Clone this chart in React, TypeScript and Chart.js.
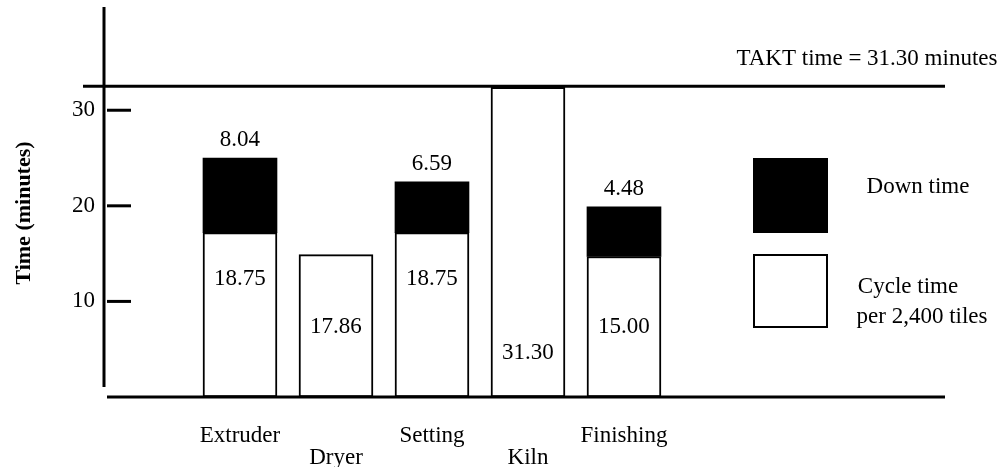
import React, { useEffect, useRef } from 'react';
import { Chart, registerables } from 'chart.js';

Chart.register(...registerables);

// ---- data (bar heights as drawn against the axis, minutes) ----
const categories = ['Extruder', 'Dryer', 'Setting', 'Kiln', 'Finishing'];
const cycleTime: (number | null)[] = [17.2, 14.9, 17.2, 32.4, 14.7];
const downTime: (number | null)[] = [7.8, null, 5.3, null, 5.2];
const cycleLabels = ['18.75', '17.86', '18.75', '31.30', '15.00'];
const downLabels = ['8.04', '', '6.59', '', '4.48'];
const yTickValues = [10, 20, 30];
const taktLevel = 32.5;
const taktText = 'TAKT time = 31.30 minutes';
const yTitle = 'Time (minutes)';
const legendDown = ['Down time'];
const legendCycle = ['Cycle time', 'per 2,400 tiles'];

// label anchors inside the white bars (axis units)
const cycleLabelAnchor = [12.4, 7.3, 12.4, 4.6, 7.3];

const FONT = '"Liberation Serif", "Times New Roman", serif';
const FS = 23;

const overlay = {
  id: 'overlay',
  afterDatasetsDraw(chart: any) {
    const { ctx, chartArea: a, scales } = chart;
    const y = scales.y;
    const x = scales.x;
    ctx.save();
    ctx.strokeStyle = '#000';
    ctx.fillStyle = '#000';
    ctx.lineCap = 'butt';

    // vertical axis
    ctx.lineWidth = 3;
    ctx.beginPath();
    ctx.moveTo(a.left + 1, a.top);
    ctx.lineTo(a.left + 1, a.bottom - 10);
    ctx.stroke();

    // tick marks (inside)
    yTickValues.forEach((v) => {
      const py = y.getPixelForValue(v);
      ctx.beginPath();
      ctx.moveTo(a.left + 4, py);
      ctx.lineTo(a.left + 28, py);
      ctx.stroke();
    });

    // baseline
    ctx.beginPath();
    ctx.moveTo(a.left + 4, a.bottom);
    ctx.lineTo(a.right, a.bottom);
    ctx.stroke();

    // TAKT line
    const ty = y.getPixelForValue(taktLevel);
    ctx.beginPath();
    ctx.moveTo(a.left - 20, ty);
    ctx.lineTo(a.right, ty);
    ctx.stroke();

    ctx.font = `${FS}px ${FONT}`;
    ctx.textAlign = 'center';
    ctx.textBaseline = 'middle';
    ctx.fillText(taktText, 867, ty - 27);

    // value labels
    const meta1 = chart.getDatasetMeta(1);
    categories.forEach((_, i) => {
      const cx = x.getPixelForValue(i);
      if (cycleLabels[i]) {
        ctx.fillText(cycleLabels[i], cx, y.getPixelForValue(cycleLabelAnchor[i]));
      }
      if (downLabels[i] && downTime[i] != null) {
        const top = meta1.data[i].y;
        ctx.fillText(downLabels[i], cx, top - 18);
      }
    });

    // legend
    ctx.fillRect(753, 158, 75, 75);
    ctx.lineWidth = 2;
    ctx.strokeRect(754, 255, 73, 72);
    ctx.fillText(legendDown[0], 918, 187);
    ctx.fillText(legendCycle[0], 908, 287);
    ctx.fillText(legendCycle[1], 922, 317);

    // y axis title
    ctx.save();
    ctx.translate(24, 213);
    ctx.rotate(-Math.PI / 2);
    ctx.font = `bold 22px ${FONT}`;
    ctx.fillText(yTitle, 0, 0);
    ctx.restore();

    ctx.restore();
  },
};

export default function App() {
  const ref = useRef<HTMLCanvasElement | null>(null);
  useEffect(() => {
    if (!ref.current) return;
    const chart = new Chart(ref.current, {
      type: 'bar',
      data: {
        datasets: [
          {
            label: 'Cycle time per 2,400 tiles',
            data: cycleTime.map((v, i) => ({ x: i, y: v })) as any,
            backgroundColor: '#fff',
            borderColor: '#000',
            borderWidth: 2,
            borderSkipped: false,
            barThickness: 74,
          },
          {
            label: 'Down time',
            data: downTime.map((v, i) => ({ x: i, y: v })) as any,
            backgroundColor: '#000',
            borderColor: '#000',
            borderWidth: 0,
            barThickness: 74,
          },
        ],
      },
      plugins: [overlay],
      options: {
        animation: false,
        responsive: false,
        maintainAspectRatio: false,
        layout: { padding: { top: 7, right: 61, left: 0, bottom: 0 } },
        plugins: { legend: { display: false }, tooltip: { enabled: false } },
        scales: {
          x: {
            type: 'linear',
            stacked: true,
            offset: false,
            min: -1.427,
            max: 7.344,
            grid: { display: false, drawTicks: false, tickLength: 0 },
            border: { display: false },
            afterBuildTicks: (s: any) => {
              s.ticks = categories.map((_, i) => ({ value: i }));
            },
            afterFit: (s: any) => {
              s.height = 70;
              s.paddingLeft = 0;
              s.paddingRight = 0;
            },
            ticks: {
              autoSkip: false,
              maxRotation: 0,
              padding: 28,
              color: '#000',
              font: { family: FONT, size: FS, lineHeight: 0.96 },
              callback: (v: any) => {
                const lab = categories[Math.round(Number(v))] ?? '';
                return Math.round(Number(v)) % 2 === 1 ? ['', lab] : lab;
              },
            },
          },
          y: {
            stacked: true,
            min: 0,
            max: 40.8,
            grid: { display: false, drawTicks: false, tickLength: 0 },
            border: { display: false },
            afterBuildTicks: (s: any) => {
              s.ticks = yTickValues.map((v) => ({ value: v }));
            },
            afterFit: (s: any) => {
              s.width = 103;
              s.paddingTop = 0;
              s.paddingBottom = 0;
            },
            ticks: {
              padding: 8,
              color: '#000',
              font: { family: FONT, size: FS },
            },
          },
        },
      },
    });
    return () => chart.destroy();
  }, []);
  return (
    <div style={{ position: 'fixed', left: 0, top: 0, width: 1006, height: 467, background: '#fff' }}>
      <canvas ref={ref} width={1006} height={467} style={{ display: 'block' }} />
    </div>
  );
}
